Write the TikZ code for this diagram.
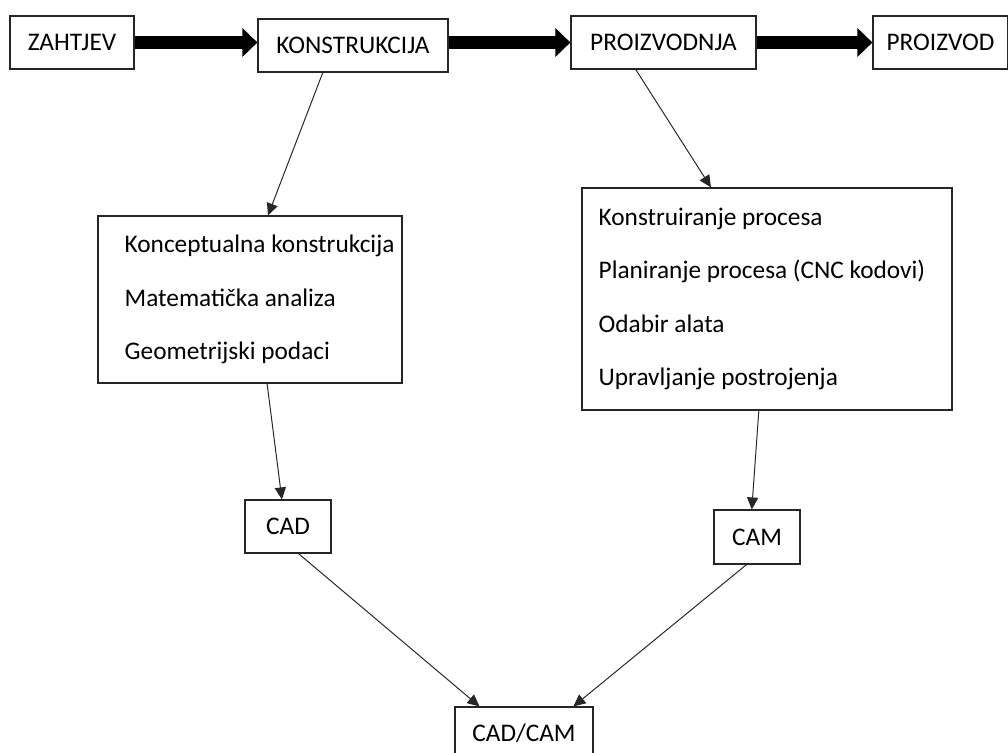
\documentclass[tikz,border=0pt]{standalone}
\usepackage{fontspec}
\setmainfont{Carlito}
\usetikzlibrary{arrows.meta,calc}

\begin{document}
\begin{tikzpicture}[x=0.025cm,y=-0.025cm,
  box/.style={draw=black!85,line width=0.8pt,minimum height=1.325cm,inner sep=0pt,
    font=\fontsize{18}{21}\selectfont},
  listtext/.style={align=left,inner sep=0pt,font=\fontsize{18}{38}\selectfont},
  bigarrow/.style={line width=0.325cm,-{Triangle[length=0.375cm,width=0.7cm]}},
  flow/.style={draw=black!85,line width=0.7pt,-{Triangle[length=0.3cm,width=0.28cm]}}]
\useasboundingbox (0,0) rectangle (1008,753);
% gornji red
\node[box,minimum width=3.1cm] (zah) at (72,42.5) {ZAHTJEV};
\node[box,minimum width=4.75cm] (kon) at (353,45.5) {KONSTRUKCIJA};
\node[box,minimum width=4.625cm] (pro) at (663.5,42.5) {PROIZVODNJA};
\node[box,minimum width=3.375cm] (prd) at (940.5,42.5) {PROIZVOD};
\draw[bigarrow] (zah.east) -- (zah.east -| kon.west);
\draw[bigarrow] (zah.east -| kon.east) -- (zah.east -| pro.west);
\draw[bigarrow] (pro.east) -- (prd.west);
% popisi
\node[box,minimum width=7.6cm,minimum height=4.175cm] (lbox) at (250,299.5) {};
\node[listtext,anchor=west] (ltext) at ($(lbox.west)+(27,0)$)
  {Konceptualna konstrukcija\\Matematička analiza\\Geometrijski podaci};
\node[box,minimum width=9.25cm,minimum height=5.55cm] (rbox) at (767,299) {};
\node[listtext,anchor=west] (rtext) at ($(rbox.west)+(17,0)$)
  {Konstruiranje procesa\\Planiranje procesa (CNC kodovi)\\Odabir alata\\Upravljanje postrojenja};
% CAD, CAM
\node[box,minimum width=2.15cm] (cad) at (288,526.5) {CAD};
\node[box,minimum width=2.15cm,minimum height=1.35cm] (cam) at (757,537) {CAM};
\node[box,minimum width=3.45cm] (cc) at (524,733.5) {CAD/CAM};
\draw[flow] ($(kon.south west)!0.342!(kon.south east)$) -- ($(lbox.north west)!0.559!(lbox.north east)$);
\draw[flow] ($(pro.south west)!0.351!(pro.south east)$) -- ($(rbox.north west)!0.349!(rbox.north east)$);
\draw[flow] ($(lbox.south west)!0.556!(lbox.south east)$) -- ($(cad.north west)!0.43!(cad.north east)$);
\draw[flow] ($(rbox.south west)!0.478!(rbox.south east)$) -- ($(cam.north west)!0.44!(cam.north east)$);
\draw[flow] ($(cad.south west)!0.62!(cad.south east)$) -- ($(cc.north west)!0.18!(cc.north east)$);
\draw[flow] ($(cam.south west)!0.38!(cam.south east)$) -- ($(cc.north west)!0.855!(cc.north east)$);
\end{tikzpicture}
\end{document}
